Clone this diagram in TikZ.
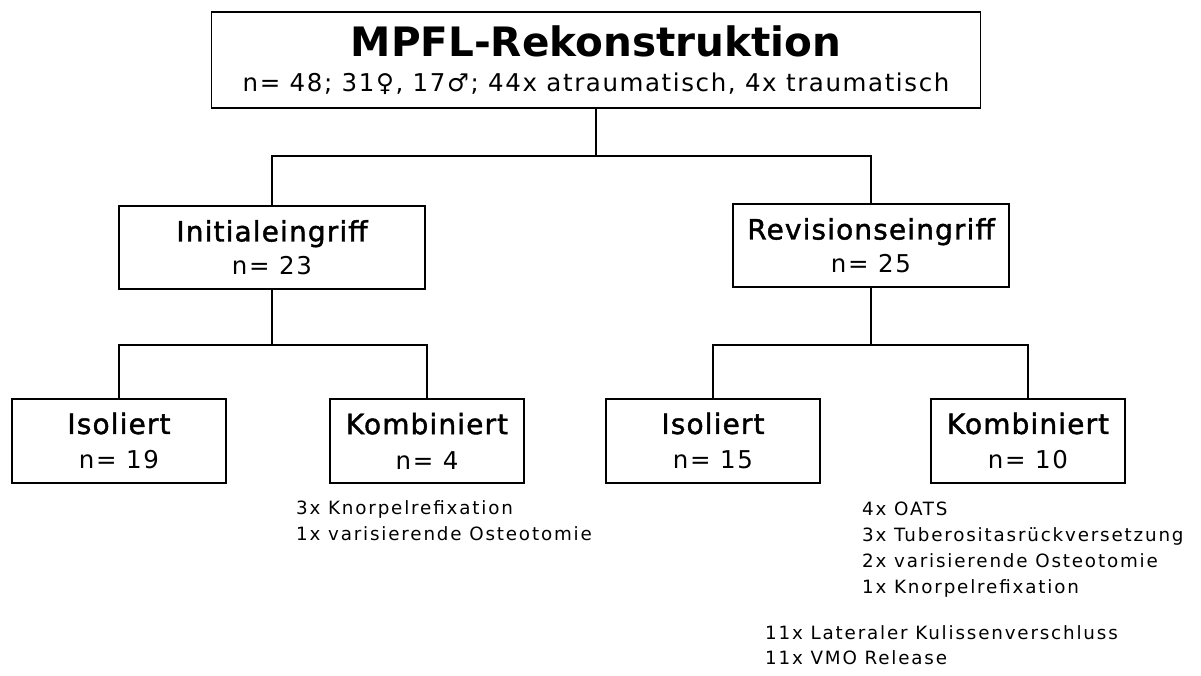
\documentclass[tikz,border=0pt]{standalone}
\usepackage{fontspec}
\setmainfont{DejaVu Sans}
\newfontfamily\titlef{DejaVu Sans}
\newfontfamily\subf[LetterSpace=6.5]{DejaVu Sans}
\newfontfamily\boxf[LetterSpace=4,FakeBold=1.5]{DejaVu Sans}
\newfontfamily\numf[LetterSpace=7]{DejaVu Sans}
\newfontfamily\notef[LetterSpace=10]{DejaVu Sans}
\usetikzlibrary{calc}
\begin{document}
\begin{tikzpicture}[x=1pt,y=-1pt,
  box/.style={draw=black,line width=1.9pt,inner sep=0pt,align=center,rectangle},
  upbox/.style={box,minimum height=83pt,font=\fontsize{24.5}{33}\selectfont},
  lowbox/.style={box,minimum height=84pt,font=\fontsize{24.5}{35}\selectfont},
  conn/.style={draw=black,line width=1.8pt},
  note/.style={inner sep=0pt,align=left,anchor=north west,font=\notef\fontsize{18.3}{26}\selectfont}]
\useasboundingbox[fill=white] (0,0) rectangle (1201,675);
% top box
\node[box,minimum width=769pt,minimum height=96pt,font=\fontsize{24.5}{35}\selectfont] (top) at (596,60)
  {{\titlef\bfseries\fontsize{40.5}{35}\selectfont MPFL-Rekonstruktion}\\{\subf n= 48; 31♀, 17♂; 44x atraumatisch, 4x traumatisch}};
% second level
\node[upbox,minimum width=306pt] (init) at (272,247.5)
  {{\boxf\fontsize{28}{33}\selectfont Initialeingriff}\\{\numf n= 23}};
\node[upbox,minimum width=276pt] (rev) at (871,245.5)
  {{\boxf\fontsize{28}{33}\selectfont Revisionseingriff}\\{\numf n= 25}};
% third level
\node[lowbox,minimum width=214pt] (isoL) at (119,441)
  {{\boxf\fontsize{28}{35}\selectfont Isoliert}\\{\numf n= 19}};
\node[lowbox,minimum width=194pt] (kombL) at (427,441)
  {{\boxf\fontsize{28}{35}\selectfont Kombiniert}\\{\numf n= 4}};
\node[lowbox,minimum width=214pt] (isoR) at (713,441)
  {{\boxf\fontsize{28}{35}\selectfont Isoliert}\\{\numf n= 15}};
\node[lowbox,minimum width=194pt] (kombR) at (1028,441)
  {{\boxf\fontsize{28}{35}\selectfont Kombiniert}\\{\numf n= 10}};
% connectors
\coordinate (j0) at ($(top.south)+(0,47)$);
\draw[conn] (top.south) -- (j0);
\draw[conn] (init.north) |- (j0) -| (rev.north);
\coordinate (j1) at ($(init.south)+(0,55)$);
\draw[conn] (init.south) -- (j1);
\draw[conn] (isoL.north) |- (j1) -| (kombL.north);
\coordinate (j2) at ($(rev.south)+(0,57)$);
\draw[conn] (rev.south) -- (j2);
\draw[conn] (isoR.north) |- (j2) -| (kombR.north);
% notes
\node[note] (nL) at (296,500) {3x Knorpelrefixation\\1x varisierende Osteotomie};
\node[note] (nR) at (862,502) {4x OATS\\3x Tuberositasrückversetzung\\2x varisierende Osteotomie\\1x Knorpelrefixation};
\node[note,font=\notef\fontsize{18.3}{25}\selectfont] (nB) at (765,625) {11x Lateraler Kulissenverschluss\\11x VMO Release};
\end{tikzpicture}
\end{document}
